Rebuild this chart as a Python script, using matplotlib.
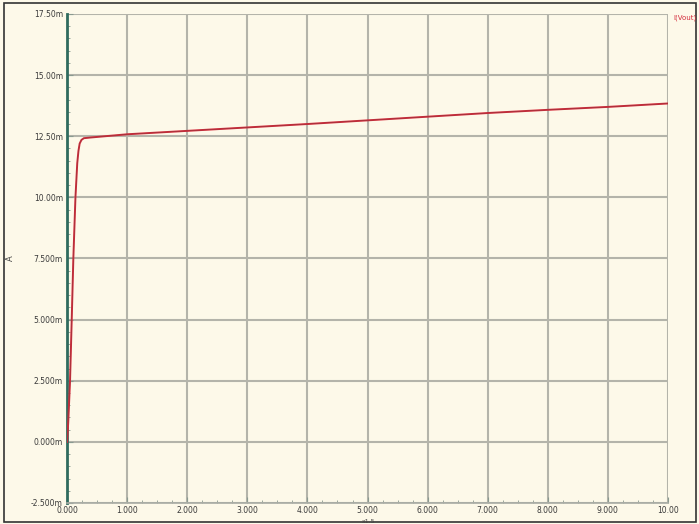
import matplotlib
matplotlib.use("Agg")
import matplotlib.pyplot as plt
from matplotlib.patches import Rectangle
from matplotlib.ticker import MultipleLocator

# time axis (scaled units) and current in mA
t = [0.0, 0.02, 0.05, 0.078, 0.105, 0.14, 0.17, 0.19, 0.21, 0.24, 0.28, 0.4,
     1.0, 2.0, 3.0, 4.0, 5.0, 6.0, 7.0, 8.0, 9.0, 10.0]
i_ma = [0.0, 0.8, 2.5, 5.0, 7.5, 10.0, 11.4, 11.9, 12.2, 12.35, 12.42, 12.45,
        12.58, 12.72, 12.86, 13.0, 13.15, 13.3, 13.45, 13.58, 13.7, 13.84]

xticks = [0, 1, 2, 3, 4, 5, 6, 7, 8, 9, 10]
xlabels = ["0.000", "1.000", "2.000", "3.000", "4.000", "5.000",
           "6.000", "7.000", "8.000", "9.000", "10.00"]
yticks = [-2.5, 0, 2.5, 5, 7.5, 10, 12.5, 15, 17.5]
ylabels = ["-2.500m", "0.000m", "2.500m", "5.000m", "7.500m",
           "10.00m", "12.50m", "15.00m", "17.50m"]

bg = "#fdf9e9"
fig = plt.figure(figsize=(6.99, 5.24), dpi=100, facecolor=bg)
ax = fig.add_axes([0.0959, 0.0401, 0.8598, 0.9332], facecolor=bg)

ax.plot(t, i_ma, color="#d42a3a", lw=1.4, zorder=3)
ax.plot(t, i_ma, color="#6a4040", lw=0.5, alpha=0.5, zorder=4)

ax.set_xlim(0, 10)
ax.set_ylim(-2.5, 17.5)
ax.set_xticks(xticks)
ax.set_xticklabels(xlabels)
ax.set_yticks(yticks)
ax.set_yticklabels(ylabels)
ax.xaxis.set_minor_locator(MultipleLocator(0.25))
ax.yaxis.set_minor_locator(MultipleLocator(0.5))

ax.grid(True, which="major", color="#b4b4aa", lw=1.5)
ax.tick_params(which="both", direction="in", labelsize=5.5, labelcolor="#3a3a3a",
               colors="#8a9a90", length=4, pad=3)
ax.tick_params(which="minor", length=2)
ax.tick_params(axis="x", pad=2.5)

for s in ["top", "right"]:
    ax.spines[s].set_visible(False)
ax.spines["left"].set_color("#2f6b5e")
ax.spines["left"].set_linewidth(2)
ax.spines["bottom"].set_color("#a8aca4")
ax.spines["bottom"].set_linewidth(1.2)

fig.text(0.015, 0.507, "A", fontsize=6, color="#444444", rotation=90,
         ha="center", va="center")
fig.text(0.527, 0.0, "x1.5", fontsize=4.5, color="#444444", ha="center", va="bottom")
fig.text(0.963, 0.966, "I(Vout)", fontsize=5, color="#d42a3a", ha="left", va="center")

# outer frame
fig.patches.append(Rectangle((0.006, 0.004), 0.99, 0.99, transform=fig.transFigure,
                             fill=False, edgecolor="#333333", lw=1.2))

fig.savefig("out.png", dpi=100, facecolor=bg)
